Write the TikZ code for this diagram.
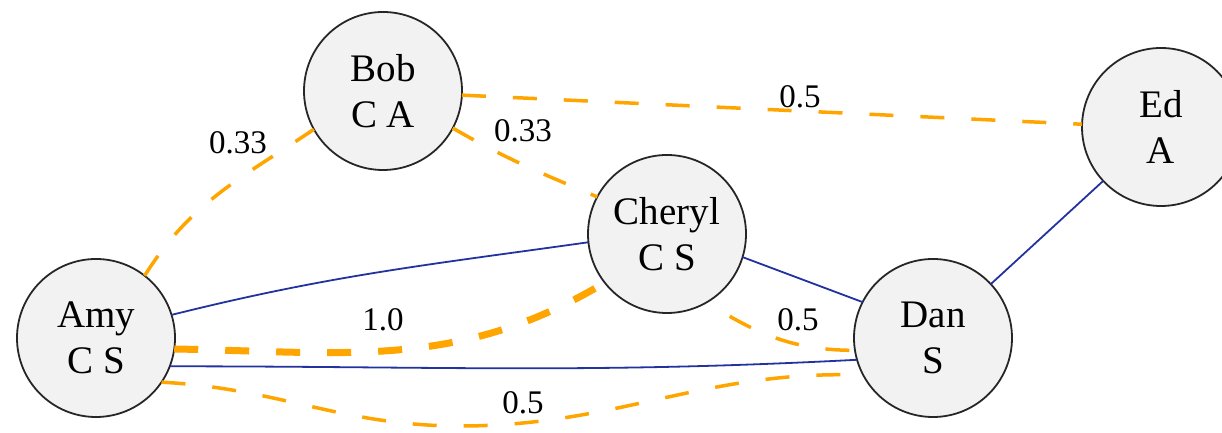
\documentclass[tikz,border=0pt]{standalone}
\usepackage{fontspec}
\setmainfont{Liberation Serif}
\definecolor{simorange}{HTML}{FFA500}
\definecolor{linkblue}{HTML}{2233A0}
\begin{document}
\begin{tikzpicture}[x=1pt,y=1pt,
  person/.style={circle, draw=black!85, line width=1.8pt, fill=black!5,
    minimum size=158pt, inner sep=0pt, outer sep=0pt, align=center,
    font=\fontsize{39}{46}\selectfont},
  wt/.style={font=\fontsize{33}{38}\selectfont, inner sep=0pt},
  link/.style={draw=linkblue, line width=1.8pt},
  sim/.style={draw=simorange, line width=3.5pt, dash pattern=on 24pt off 27pt},
  strong/.style={draw=simorange, line width=7pt, dash pattern=on 24pt off 27pt}]
\useasboundingbox (0,0) rectangle (1222,433);
\node[person] (amy) at (96,95) {Amy\\C S};
\node[person] (bob) at (383,342) {Bob\\C A};
\node[person] (cheryl) at (667,199) {Cheryl\\C S};
\node[person] (dan) at (933,95) {Dan\\S};
\node[person] (ed) at (1161,306) {Ed\\A};
\coordinate (adlow) at (460,7);
% connectors
\draw[sim] (amy.52) to[out=58,in=214] (bob.209);
\draw[sim] (bob.-28) to[out=-30,in=157] (cheryl.152);
\draw[sim] (bob.-3) -- (ed.178);
\draw[link] (amy.17) to[out=14,in=188] (cheryl.186);
\draw[strong] (amy.-8) to[out=-1,in=211] (cheryl.218);
\draw[link] (cheryl.-17) -- (dan.153);
\draw[sim, dash phase=24pt] (cheryl.-60) to[out=-32,in=180] (dan.189);
\draw[link] (amy.-21) to[out=0,in=183] (dan.196);
\draw[sim] (amy.-34) to[out=-3,in=180] (adlow) to[out=0,in=178] (dan.208);
\draw[link] (dan.43) -- (ed.223);
% weights
\node[wt] (w1) at (238,290) {0.33};
\node[wt] (w2) at (523,302) {0.33};
\node[wt] (w3) at (800,336) {0.5};
\node[wt] (w4) at (383,113) {1.0};
\node[wt] (w5) at (798,113) {0.5};
\node[wt] (w6) at (523,30) {0.5};
\end{tikzpicture}
\end{document}
